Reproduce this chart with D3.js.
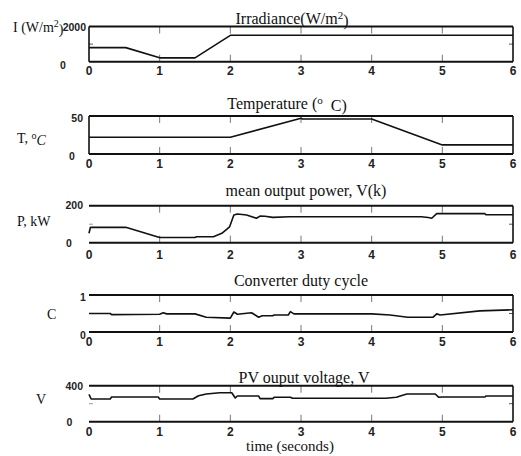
<!DOCTYPE html>
<html><head><meta charset="utf-8">
<script src="https://cdn.jsdelivr.net/npm/d3@7"></script>
<style>body{margin:0;background:#fff}svg{display:block}</style>
</head><body>
<script>
// ---- data ----
const xTickValues = [0, 1, 2, 3, 4, 5, 6];
const xTickInner = [1, 2, 3, 4, 5];

const irrT = [0, 0.52, 1.0, 1.5, 2.0, 6.0];
const irrV = [800, 800, 220, 220, 1500, 1500];

const tempT = [0, 2.0, 3.0, 3.02, 4.0, 5.0, 6.0];
const tempV = [22, 22, 47, 46, 46, 12, 12];

const powT = [0, 0.02, 0.52, 1.0, 1.5, 1.52, 1.76, 1.88, 1.99, 2.05, 2.1, 2.23, 2.37, 2.42, 2.49, 2.6, 2.84, 4.7, 4.8, 4.85, 4.92, 5.6, 5.62, 6.0];
const powV = [51, 83, 83, 28, 28, 32, 32, 51, 86, 150, 155, 150, 132, 144, 143, 137, 140, 140, 136, 132, 157, 157, 151, 151];

const dutyT = [0, 0.3, 0.32, 1.0, 1.05, 1.1, 1.5, 1.66, 2.0, 2.05, 2.1, 2.3, 2.4, 2.45, 2.6, 2.62, 2.82, 2.85, 2.9, 4.0, 4.26, 4.51, 4.87, 4.92, 4.97, 5.53, 6.0];
const dutyV = [0.50, 0.50, 0.47, 0.48, 0.52, 0.49, 0.49, 0.40, 0.375, 0.54, 0.48, 0.52, 0.40, 0.44, 0.44, 0.46, 0.46, 0.55, 0.49, 0.49, 0.46, 0.40, 0.40, 0.49, 0.46, 0.57, 0.60];

const voltT = [0, 0.03, 0.3, 0.32, 0.98, 1.0, 1.47, 1.55, 1.66, 1.85, 2.02, 2.07, 2.1, 2.4, 2.42, 2.6, 2.62, 2.85, 2.88, 4.2, 4.35, 4.45, 4.5, 4.9, 4.95, 5.0, 5.6, 5.62, 6.0];
const voltV = [304, 252, 252, 274, 274, 252, 252, 289, 308, 322, 322, 263, 286, 286, 256, 256, 271, 271, 260, 260, 271, 297, 308, 308, 271, 274, 274, 286, 286];

const yDomains = [[0, 2000], [0, 50], [0, 200], [0, 1], [0, 400]];
const yTickLabels = [["0", "2000"], ["0", "50"], ["0", "200"], ["0", "1"], ["0", "400"]];
const yMidTicks = [1000, null, 100, 0.5, 200];

// ---- layout ----
const W = 521, H = 456;
const svg = d3.select("body").append("svg").attr("width", W).attr("height", H);
const x = d3.scaleLinear().domain([0, 6]).range([89, 513]);

const panels = [
  {top: 26.5, bottom: 61.7, leftBorder: true, T: irrT, V: irrV,
   tx: 292, ty: 18,
   lo: {x: 63, y: 65, anchor: "middle"}, hi: {x: 86, y: 27, anchor: "end"}, xl: 70.5},
  {top: 116, bottom: 154, leftBorder: true, T: tempT, V: tempV,
   tx: 287, ty: 103,
   lo: {x: 72, y: 156, anchor: "middle"}, hi: {x: 83, y: 118, anchor: "end"}, xl: 164},
  {top: 205.7, bottom: 242.7, leftBorder: false, T: powT, V: powV,
   title: "mean output power, V(k)", tx: 306, ty: 190,
   lo: {x: 66, y: 243, anchor: "start"}, hi: {x: 83, y: 205, anchor: "end"}, xl: 255},
  {top: 295, bottom: 332, leftBorder: false, T: dutyT, V: dutyV,
   title: "Converter duty cycle", tx: 301, ty: 280,
   lo: {x: 83, y: 335.5, anchor: "middle"}, hi: {x: 83, y: 297, anchor: "middle"}, xl: 342},
  {top: 385.7, bottom: 421.7, leftBorder: false, T: voltT, V: voltV,
   title: "PV ouput voltage, V", tx: 304, ty: 377,
   lo: {x: 66.5, y: 422, anchor: "start"}, hi: {x: 83, y: 386, anchor: "end"}, xl: 432}
];

const serif = "'Liberation Serif', 'Times New Roman', serif";
const sans = "'Liberation Sans', Arial, sans-serif";

panels.forEach((p, i) => {
  const y = d3.scaleLinear().domain(yDomains[i]).range([p.bottom, p.top]);
  const g = svg.append("g");
  xTickInner.forEach(t => {
    g.append("line").attr("x1", x(t)).attr("x2", x(t)).attr("y1", p.top).attr("y2", p.top + 7)
      .attr("stroke", "#777").attr("stroke-width", 1);
    g.append("line").attr("x1", x(t)).attr("x2", x(t)).attr("y1", p.bottom).attr("y2", p.bottom - 7)
      .attr("stroke", "#777").attr("stroke-width", 1);
  });
  if (yMidTicks[i] !== null) {
    const ym = y(yMidTicks[i]);
    g.append("line").attr("x1", x(0)).attr("x2", x(0) + 4).attr("y1", ym).attr("y2", ym)
      .attr("stroke", p.leftBorder ? "#555" : "#999");
    g.append("line").attr("x1", x(6)).attr("x2", x(6) - 4).attr("y1", ym).attr("y2", ym).attr("stroke", "#555");
  }
  g.append("line").attr("x1", x(0)).attr("x2", x(6)).attr("y1", p.top).attr("y2", p.top).attr("stroke", "#111").attr("stroke-width", 2);
  g.append("line").attr("x1", x(0)).attr("x2", x(6)).attr("y1", p.bottom).attr("y2", p.bottom).attr("stroke", "#111").attr("stroke-width", 2);
  g.append("line").attr("x1", x(6)).attr("x2", x(6)).attr("y1", p.top).attr("y2", p.bottom).attr("stroke", "#111").attr("stroke-width", 1.6);
  if (p.leftBorder) g.append("line").attr("x1", x(0)).attr("x2", x(0)).attr("y1", p.top).attr("y2", p.bottom).attr("stroke", "#111").attr("stroke-width", 1.6);

  const pts = p.T.map((t, k) => [t, p.V[k]]);
  g.append("path").datum(pts)
    .attr("d", d3.line().x(d => x(d[0])).y(d => y(d[1])))
    .attr("fill", "none").attr("stroke", "#111").attr("stroke-width", 1.6).attr("stroke-linejoin", "round");

  g.selectAll(".xt").data(xTickValues).enter().append("text")
    .attr("x", d => x(d)).attr("y", p.xl).attr("dy", "0.35em")
    .attr("text-anchor", "middle").attr("font-family", sans).attr("font-weight", "bold")
    .attr("font-size", 12).attr("fill", "#222").text(d => d);

  [p.lo, p.hi].forEach((l, k) => {
    g.append("text").attr("x", l.x).attr("y", l.y).attr("dy", "0.35em").attr("text-anchor", l.anchor)
      .attr("font-family", sans).attr("font-weight", "bold").attr("font-size", 10.5).attr("fill", "#222")
      .text(yTickLabels[i][k]);
  });
});

function title(p) {
  return svg.append("text").attr("x", p.tx).attr("y", p.ty).attr("dy", "0.35em")
    .attr("text-anchor", "middle").attr("font-family", serif).attr("font-size", 16).attr("fill", "#111");
}
let t1 = title(panels[0]);
t1.append("tspan").text("Irradiance(W/m");
t1.append("tspan").attr("dy", "-0.45em").attr("font-size", 11).text("2");
t1.append("tspan").attr("dy", "0.45em").text(")");
let t2 = title(panels[1]);
t2.append("tspan").text("Temperature (");
t2.append("tspan").attr("dy", "-0.45em").attr("font-size", 11).text("o");
t2.append("tspan").attr("dy", "0.45em").text("\u00a0 C)");
[2, 3, 4].forEach(i => title(panels[i]).text(panels[i].title));

const yl = svg.append("g").attr("font-family", serif).attr("font-size", 14).attr("fill", "#111");
let l1 = yl.append("text").attr("x", 13).attr("y", 27).attr("dy", "0.35em");
l1.append("tspan").text("I (W/m");
l1.append("tspan").attr("dy", "-0.45em").attr("font-size", 10).text("2");
l1.append("tspan").attr("dy", "0.45em").text(")");
let l2 = yl.append("text").attr("x", 17).attr("y", 138).attr("dy", "0.35em");
l2.append("tspan").text("T, ");
l2.append("tspan").attr("dy", "-0.4em").attr("font-size", 10).text("o");
l2.append("tspan").attr("dy", "0.4em").attr("font-style", "italic").text("C");
yl.append("text").attr("x", 17).attr("y", 221).attr("dy", "0.35em").text("P, kW");
yl.append("text").attr("x", 47).attr("y", 314).attr("dy", "0.35em").text("C");
yl.append("text").attr("x", 36).attr("y", 399).attr("dy", "0.35em").text("V");

svg.append("text").attr("x", 290).attr("y", 446).attr("dy", "0.35em").attr("text-anchor", "middle")
  .attr("font-family", serif).attr("font-size", 15).attr("fill", "#111").text("time (seconds)");
</script>
</body></html>
